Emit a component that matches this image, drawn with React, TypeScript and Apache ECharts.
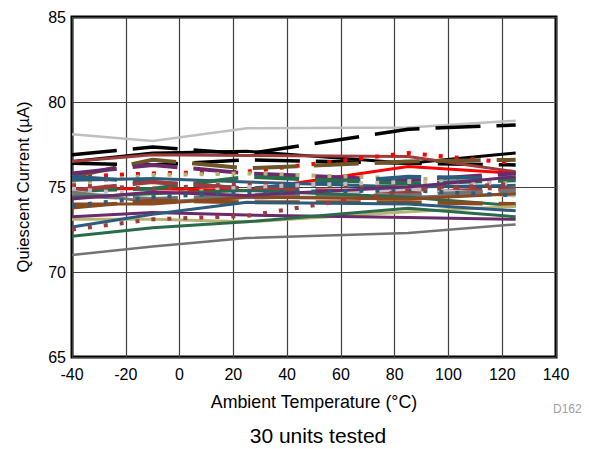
import React, { useEffect, useRef } from "react";
import * as echarts from "echarts";

const temps = [-40, -10, 25, 85, 125];
const xTicks = [-40, -20, 0, 20, 40, 60, 80, 100, 120, 140];
const yTicks = [65, 70, 75, 80, 85];

// Quiescent current (µA) per unit at each temperature
const u01 = [78.1, 77.7, 78.45, 78.5, 78.9];
const u02 = [76.9, 77.35, 76.95, 78.4, 78.65];
const u03 = [76.5, 77.0, 77.1, 76.4, 77.0];
const u04 = [76.4, 76.3, 76.6, 76.4, 76.3];
const u05 = [76.5, 76.9, 76.85, 76.8, 75.9];
const u06 = [75.6, 75.8, 75.9, 77.0, 76.4];
const u07 = [74.9, 74.9, 74.8, 76.2, 75.8];
const u08 = [75.6, 76.6, 76.1, 76.5, 76.6];
const u09 = [75.8, 76.3, 75.8, 75.4, 75.8];
const u10 = [75.2, 75.7, 75.8, 75.5, 75.3];
const u11 = [75.4, 75.5, 75.3, 75.0, 75.1];
const u12 = [75.6, 75.3, 74.9, 75.6, 75.5];
const u13 = [74.8, 74.9, 75.6, 75.2, 75.4];
const u14 = [74.8, 75.3, 74.9, 74.7, 74.9];
const u15 = [75.1, 74.9, 75.2, 75.0, 74.9];
const u16 = [74.9, 74.5, 75.0, 75.3, 75.2];
const u17 = [74.7, 74.2, 74.3, 74.9, 74.5];
const u18 = [74.7, 74.1, 74.4, 74.4, 74.6];
const u19 = [74.5, 74.3, 74.5, 74.5, 74.8];
const u20 = [74.4, 74.6, 74.8, 74.4, 73.9];
const u21 = [74.0, 74.0, 74.4, 74.3, 74.6];
const u22 = [73.8, 74.2, 74.1, 74.1, 74.0];
const u23 = [74.3, 74.7, 74.5, 75.0, 75.6];
const u24 = [73.9, 74.4, 74.7, 74.8, 74.5];
const u25 = [73.1, 73.1, 72.95, 73.55, 73.85];
const u26 = [73.25, 73.5, 73.35, 73.2, 73.1];
const u27 = [72.1, 72.6, 72.95, 73.75, 73.25];
const u28 = [72.65, 73.4, 74.1, 74.0, 73.6];
const u29 = [72.5, 73.1, 73.3, 74.8, 75.2];
const u30 = [71.0, 71.5, 72.0, 72.3, 72.8];

const units = [u01, u02, u03, u04, u05, u06, u07, u08, u09, u10, u11, u12, u13, u14, u15,
  u16, u17, u18, u19, u20, u21, u22, u23, u24, u25, u26, u27, u28, u29, u30];

const C = {
  black: "#000000",
  red: "#FF0000",
  maroon: "#9E3B3B",
  brown: "#6E5426",
  khaki: "#B8B274",
  purple: "#6B2A6B",
  teal: "#2B5C7E",
  green: "#2A6B4B",
  lgray: "#BFBFBF",
  gray: "#737373",
  sienna: "#8B4A1E",
};

// [color, style] per unit
const unitStyles: [string, string][] = [
  [C.lgray, "solid"], [C.black, "dash"], [C.black, "solid"], [C.black, "dash"],
  [C.maroon, "solid"], [C.red, "dot"], [C.red, "solid"], [C.brown, "dash"],
  [C.purple, "dash"], [C.khaki, "dot"], [C.teal, "solid"], [C.teal, "dash"],
  [C.green, "dash"], [C.maroon, "dash"], [C.maroon, "dot"], [C.lgray, "dot"],
  [C.lgray, "dash"], [C.gray, "solid"], [C.gray, "dash"], [C.green, "solid"],
  [C.sienna, "solid"], [C.sienna, "dash"], [C.purple, "solid"], [C.teal, "dot"],
  [C.khaki, "solid"], [C.purple, "solid"], [C.green, "solid"], [C.teal, "solid"],
  [C.maroon, "dot"], [C.gray, "solid"],
];

const FONT = "Liberation Sans, Arial, sans-serif";

export default function App() {
  const ref = useRef<HTMLDivElement>(null);
  useEffect(() => {
    if (!ref.current) return;
    const chart = echarts.init(ref.current, null, { renderer: "svg" });
    const series = units.map((u, i) => {
      const [color, style] = unitStyles[i];
      const isLight = i === 0 || i === 29;
      const type = style === "solid" ? "solid" : style === "dash" ? [45, 16] : [4, 12];
      const width = style === "dot" ? 4 : style === "dash" ? (color === C.black ? 3.5 : 4) : isLight ? 2.5 : 3;
      return {
        type: "line",
        name: "Unit " + (i + 1),
        data: temps.map((t, k) => [t, u[k]]),
        showSymbol: false,
        symbol: "none",
        lineStyle: { color, width, type, cap: "butt", join: "miter" },
        z: 2,
      };
    });
    chart.setOption({
      animation: false,
      textStyle: { fontFamily: FONT },
      grid: { left: 72, right: 33, top: 17, bottom: 92, show: true, borderColor: "#000", borderWidth: 3, backgroundColor: "transparent" },
      xAxis: {
        type: "value",
        min: xTicks[0],
        max: xTicks[xTicks.length - 1],
        interval: 20,
        name: "Ambient Temperature (°C)",
        nameLocation: "middle",
        nameGap: 36,
        nameTextStyle: { fontSize: 17.8, color: "#000", fontFamily: FONT },
        axisLine: { show: false },
        axisTick: { show: false },
        axisLabel: { fontSize: 16, color: "#000", margin: 9, fontFamily: FONT },
        splitLine: { show: true, lineStyle: { color: "#404040", width: 1.2 } },
      },
      yAxis: {
        type: "value",
        min: yTicks[0],
        max: yTicks[yTicks.length - 1],
        interval: 5,
        name: "Quiescent Current (µA)",
        nameLocation: "middle",
        nameGap: 40,
        nameRotate: 90,
        nameTextStyle: { fontSize: 16.6, color: "#000", fontFamily: FONT },
        axisLine: { show: false },
        axisTick: { show: false },
        axisLabel: { fontSize: 16, color: "#000", margin: 6, fontFamily: FONT },
        splitLine: { show: true, lineStyle: { color: "#404040", width: 1.2 } },
      },
      graphic: [
        { type: "text", x: 553, y: 403, style: { text: "D162", fontSize: 12, fill: "#a0a0a0", fontFamily: FONT } },
        { type: "text", x: 318, y: 425, style: { text: "30 units tested", fontSize: 21, fill: "#000", fontFamily: FONT, textAlign: "center" } },
      ],
      series,
    });
    return () => chart.dispose();
  }, []);
  return <div ref={ref} style={{ width: 589, height: 449, position: "absolute", left: 0, top: 0 }} />;
}
